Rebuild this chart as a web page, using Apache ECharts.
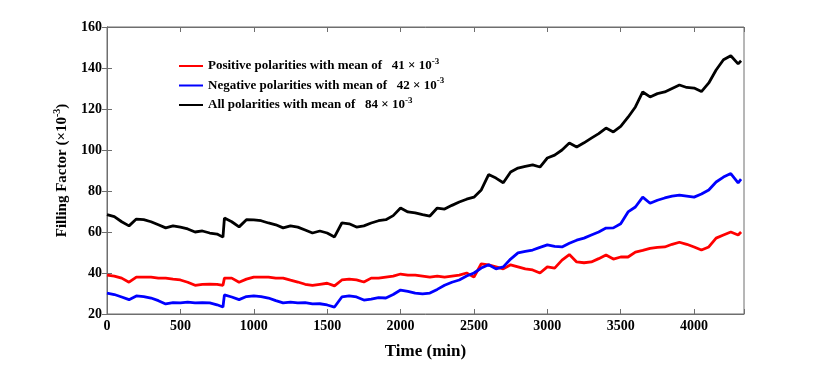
<!DOCTYPE html>
<html>
<head>
<meta charset="utf-8">
<script src="https://cdn.jsdelivr.net/npm/echarts@6/dist/echarts.min.js"></script>
<style>html,body{margin:0;padding:0;background:#fff;}#c{width:830px;height:368px;}</style>
</head>
<body>
<div id="c"></div>
<script>
// time (min)
var time = [0,50,100,150,200,250,300,350,400,450,500,550,600,650,700,750,790,
800,850,900,950,1000,1050,1100,1150,1200,1250,1300,1350,1400,1450,1500,1550,
1600,1650,1700,1750,1800,1850,1900,1950,2000,2050,2100,2150,2200,2250,2300,2350,
2400,2450,2500,2550,2600,2650,2700,2750,2800,2850,2900,2950,3000,3050,3100,3150,
3200,3250,3300,3350,3400,3450,3500,3550,3600,3650,3700,3750,3800,3850,3900,3950,
4000,4050,4100,4150,4200,4250,4300,4320];

var positive = [39,38.5,37.5,35.5,38,38,38,37.5,37.5,37,36.6,35.5,34,34.5,34.6,34.5,34,
37.5,37.5,35.5,37,38,38,38,37.5,37.5,36.5,35.6,34.5,34,34.5,35,33.7,
36.6,37,36.6,35.6,37.5,37.5,38,38.5,39.5,39,39,38.5,38,38.5,38,38.5,
39,40,38,44.5,44,43,42,44,43,42,41.5,40,43,42.4,46.3,49,
45.4,45,45.4,47,48.8,46.8,47.8,47.8,50.2,51,52,52.5,52.7,54,55,54,
52.7,51.2,52.7,57,58.5,60,58.5,60];

var negative = [30.2,29.5,28.3,27,28.8,28.5,27.8,26.5,24.9,25.5,25.4,25.8,25.4,25.5,25.4,24.5,23.4,
29.3,28.3,27,28.5,28.8,28.5,27.8,26.5,25.4,25.8,25.4,25.5,24.9,25,24.4,23.4,
28.3,28.8,28.3,26.8,27.3,28,27.8,29.5,31.7,31,30.2,29.8,30.2,32,34,35.5,
36.6,38.5,40,42.4,44,42,43,46.8,49.8,50.5,51.2,52.5,53.7,53,52.7,54.5,
56,57,58.5,60,61.9,62,64,69.8,72.2,77,74,75.5,76.6,77.5,78,77.5,
77,78.5,80.5,84.4,86.8,88.5,84,85.8];

var allPol = [68.5,67.5,65,63,66.3,66,65,63.5,62,63,62.4,61.5,60,60.5,59.5,59,57.5,
66.8,65,62.5,66,65.9,65.5,64.4,63.5,62,63,62.4,61,59.5,60.5,59.5,57.6,
64.4,64,62.4,63,64.4,65.5,66,68,71.7,69.8,69.3,68.5,67.8,71.7,71.2,73,
74.6,76,77,80.5,88,86.3,84,89.3,91.2,92,92.7,91.7,96.1,97.5,100,103.4,
101.5,103.5,105.8,108,110.7,108.8,111.5,116,121,128.3,125.9,127.5,128.3,130,131.7,130.5,
130.2,128.5,132.7,139,144,146,142,143.5];

var seriesNames = ['Positive polarities with mean of', 'Negative polarities with mean of', 'All polarities with mean of'];
var means = ['41', '42', '84'];
var xTicks = [0,500,1000,1500,2000,2500,3000,3500,4000];
var yTicks = [20,40,60,80,100,120,140,160];

function pairs(v){ return time.map(function(t,i){ return [t, v[i]]; }); }

var font = 'Liberation Serif';
var chart = echarts.init(document.getElementById('c'));
var axisCol = '#6e6e6e';
var option = {
  backgroundColor: '#fff',
  animation: false,
  grid: {left: 107, right: 86, top: 27, bottom: 54, show: true, borderColor: axisCol, borderWidth: 1},
  legend: {
    left: 174, top: 52, orient: 'vertical', itemGap: 4,
    itemWidth: 24, itemHeight: 2, icon: 'rect',
    data: seriesNames,
    formatter: function(name){
      var i = seriesNames.indexOf(name);
      return '{t|' + name + '   ' + means[i] + ' × 10}{s|-3}';
    },
    textStyle: {
      fontFamily: font, fontWeight: 'bold', fontSize: 13, color: '#000',
      rich: {
        t: {fontFamily: font, fontWeight: 'bold', fontSize: 13, color: '#000'},
        s: {fontFamily: font, fontWeight: 'bold', fontSize: 9, color: '#000', padding: [0,0,9,0]}
      }
    }
  },
  xAxis: [{
    type: 'value', min: 0, max: 4340, interval: 500,
    name: 'Time (min)', nameLocation: 'middle', nameGap: 29,
    nameTextStyle: {fontFamily: font, fontWeight: 'bold', fontSize: 17, color: '#000'},
    axisLine: {show: true, lineStyle: {color: axisCol}},
    axisTick: {show: true, inside: true, length: 5, lineStyle: {color: axisCol}},
    axisLabel: {fontFamily: font, fontWeight: 'bold', fontSize: 14, color: '#000', margin: 5,
      formatter: function(v){ return xTicks.indexOf(v) >= 0 ? String(v) : ''; }},
    splitLine: {show: false}
  }, {
    type: 'value', position: 'top', min: 0, max: 4340, interval: 500,
    axisLine: {show: true, lineStyle: {color: axisCol}},
    axisTick: {show: true, inside: true, length: 5, lineStyle: {color: axisCol}},
    axisLabel: {show: false}, splitLine: {show: false}
  }],
  yAxis: [{
    type: 'value', min: 20, max: 160, interval: 20,
    name: '{a|Filling Factor (×10}{s|-3}{a|)}', nameLocation: 'middle', nameGap: 33, nameRotate: 90,
    nameTextStyle: {
      rich: {
        a: {fontFamily: font, fontWeight: 'bold', fontSize: 15, color: '#000'},
        s: {fontFamily: font, fontWeight: 'bold', fontSize: 10, color: '#000', padding: [0,0,10,0]}
      }
    },
    axisLine: {show: true, lineStyle: {color: axisCol}},
    axisTick: {show: true, inside: true, length: 5, lineStyle: {color: axisCol}},
    axisLabel: {fontFamily: font, fontWeight: 'bold', fontSize: 14, color: '#000', margin: 5,
      formatter: function(v){ return yTicks.indexOf(v) >= 0 ? String(v) : ''; }},
    splitLine: {show: false}
  }, {
    type: 'value', position: 'right', min: 20, max: 160, interval: 20,
    axisLine: {show: true, lineStyle: {color: axisCol}},
    axisTick: {show: true, inside: true, length: 5, lineStyle: {color: axisCol}},
    axisLabel: {show: false}, splitLine: {show: false}
  }],
  series: [
    {name: seriesNames[0], type: 'line', data: pairs(positive), showSymbol: false, symbol: 'none',
      lineStyle: {color: '#ff0000', width: 2.8}, itemStyle: {color: '#ff0000'}},
    {name: seriesNames[1], type: 'line', data: pairs(negative), showSymbol: false, symbol: 'none',
      lineStyle: {color: '#0000ff', width: 2.8}, itemStyle: {color: '#0000ff'}},
    {name: seriesNames[2], type: 'line', data: pairs(allPol), showSymbol: false, symbol: 'none',
      lineStyle: {color: '#000000', width: 2.8}, itemStyle: {color: '#000000'}}
  ]
};
chart.setOption(option);
</script>
</body>
</html>
